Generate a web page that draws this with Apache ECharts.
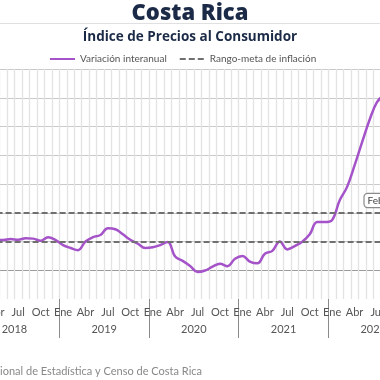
<!DOCTYPE html>
<html><head><meta charset="utf-8">
<script src="https://cdn.jsdelivr.net/npm/echarts@6/dist/echarts.min.js"></script>
<style>html,body{margin:0;padding:0;background:#fff;overflow:hidden;width:380px;height:380px}
#c{position:absolute;left:-45px;top:0;width:470px;height:380px}</style>
</head><body><div id="c"></div>
<script>
// ---- data ----
const years = ['2018', '2019', '2020', '2021', '2022'];
const monthNames = ['Ene', 'Feb', 'Mar', 'Abr', 'May', 'Jun', 'Jul', 'Ago', 'Sep', 'Oct', 'Nov', 'Dic'];
const seriesStart = '2018-04';
// Variación interanual (%), Apr 2018 .. Aug 2022
const inflation = [
  2.10, 2.10, 2.17, 2.12, 2.22, 2.20, 2.05, 2.30, 2.10,            // 2018 Abr-Dic
  1.75, 1.55, 1.40, 2.00, 2.30, 2.45, 2.92, 2.85, 2.50, 2.12, 1.85, 1.55, // 2019
  1.60, 1.75, 1.97, 0.95, 0.65, 0.30, -0.12, -0.02, 0.25, 0.45, 0.28, 0.80, // 2020
  1.00, 0.60, 0.48, 1.15, 1.35, 2.00, 1.45, 1.68, 1.98, 2.50, 3.35, 3.35, // 2021
  3.50, 4.85, 5.80, 7.30, 8.90, 10.45, 11.70, 12.20                 // 2022 Ene-Ago
];
const targetRange = [2, 4];
const annotation = { month: '2022-02', text: 'Feb 2022' };
const yMin = -2, yMax = 14, yStep = 2;

const categories = [];
years.forEach(y => monthNames.forEach((m, i) => categories.push(y + '-' + String(i + 1).padStart(2, '0'))));
const startIdx = categories.indexOf(seriesStart);
const lineData = categories.map((c, i) => (i >= startIdx && i - startIdx < inflation.length) ? inflation[i - startIdx] : null);
const annValue = lineData[categories.indexOf(annotation.month)];

const OFF = 45; // container is shifted 45px left of the page
const font = 'Lato';
const chart = echarts.init(document.getElementById('c'), null, { renderer: 'canvas' });
chart.setOption({
  animation: false,
  backgroundColor: '#fff',
  title: [
    { text: 'Costa Rica', left: 'center', top: 3, padding: 0,
      textStyle: { fontFamily: 'Open Sans', fontWeight: 800, fontSize: 22, color: '#1b2a47' } },
    { text: 'Índice de Precios al Consumidor', left: 'center', top: 30, padding: 0,
      textStyle: { fontFamily: 'Open Sans', fontWeight: 'bold', fontSize: 13.5, color: '#1b2a47' } }
  ],
  legend: {
    left: 49 + OFF, top: 54, itemWidth: 25, itemHeight: 10, itemGap: 12, padding: 0,
    itemStyle: { opacity: 0 },
    textStyle: { fontFamily: font, fontSize: 10, color: '#555' },
    data: ['Variación interanual', 'Rango-meta de inflación']
  },
  graphic: [
    { type: 'line', shape: { x1: 0, y1: 23.5, x2: 470, y2: 23.5 }, style: { stroke: '#e0e0e0', lineWidth: 1 } },
    { type: 'text', right: 470 - 202 - OFF, top: 366,
      style: { text: 'Fuente: Instituto Nacional de Estadística y Censo de Costa Rica', fontFamily: font, fontSize: 11, fill: '#888' } }
  ],
  grid: { left: 14.6, right: 6.9, top: 69, bottom: 81, containLabel: false },
  xAxis: [
    { type: 'category', data: categories, boundaryGap: true,
      axisLine: { show: false }, axisTick: { show: false },
      axisLabel: { interval: 2, margin: 8, fontFamily: font, fontSize: 11, color: '#555',
        formatter: v => monthNames[parseInt(v.slice(5), 10) - 1] },
      splitLine: { show: true, interval: 0, lineStyle: { color: '#e3e3e3', width: 1.3 } } },
    { type: 'category', data: years, boundaryGap: true, position: 'bottom',
      axisLine: { show: false },
      axisTick: { show: true, length: 39, lineStyle: { color: '#8a8a8a', width: 1 } },
      axisLabel: { margin: 25, fontFamily: font, fontSize: 11, color: '#555' },
      splitLine: { show: false } }
  ],
  yAxis: {
    type: 'value', min: yMin, max: yMax, interval: yStep,
    axisLine: { show: false }, axisTick: { show: false }, axisLabel: { show: false },
    splitLine: { show: true, lineStyle: { color: ['rgba(0,0,0,0)', '#9a9a9a', '#c9c9c9', '#c9c9c9', '#c9c9c9', '#c9c9c9', '#c9c9c9', '#c9c9c9', '#c9c9c9'], width: 1 } }
  },
  series: [
    { name: 'Rango-meta de inflación', type: 'line', data: [], symbol: 'none',
      lineStyle: { color: '#707070', width: 2.2, type: [6, 3] }, itemStyle: { color: '#707070' },
      markLine: { silent: true, symbol: 'none', label: { show: false },
        lineStyle: { color: '#707070', width: 2.2, type: [6, 3] },
        data: targetRange.map(v => ({ yAxis: v })) } },
    { name: 'Variación interanual', type: 'line', data: lineData, smooth: 0.4, symbol: 'none',
      lineStyle: { color: '#a553c9', width: 2.5 }, itemStyle: { color: '#a553c9' },
      markPoint: { symbol: 'circle', symbolSize: 0,
        data: [{ coord: [annotation.month, annValue] }],
        label: { show: true, position: 'right', distance: 25, formatter: annotation.text,
          fontFamily: font, fontSize: 10, color: '#444', backgroundColor: '#fff',
          borderColor: '#8a8a8a', borderWidth: 1.2, borderRadius: 3, padding: [2, 3, 1, 3] } } }
  ]
});
</script></body></html>
